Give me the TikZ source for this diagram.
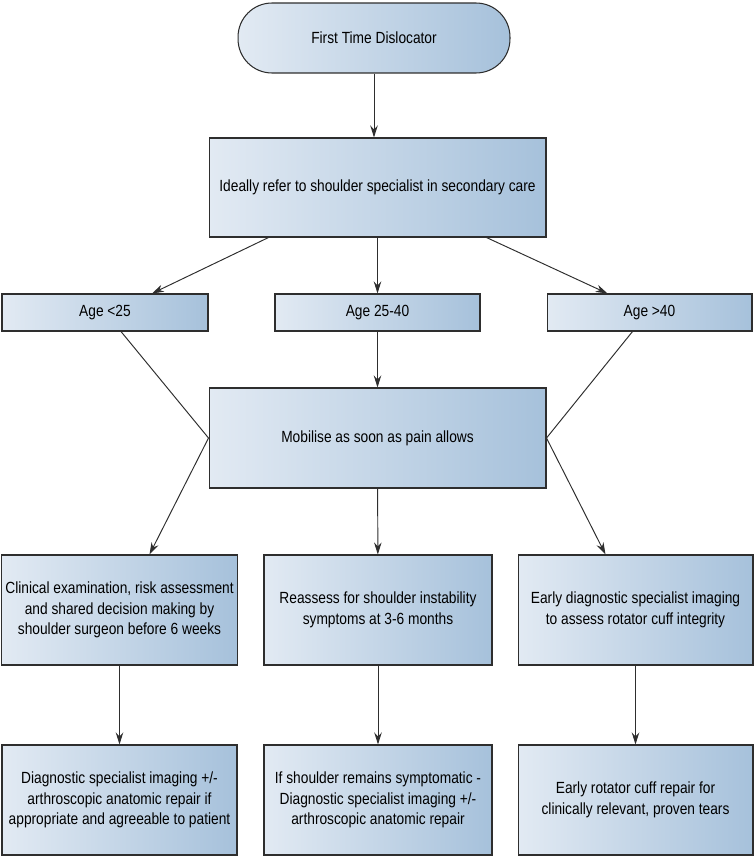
\documentclass[tikz,border=0pt]{standalone}
\usepackage{fontspec}
\setmainfont{Liberation Sans}[FakeStretch=0.85]
\usepackage{tikz}
\usetikzlibrary{arrows.meta,positioning,calc}
\definecolor{boxleft}{HTML}{E2EAF3}
\definecolor{boxright}{HTML}{A6C1DB}
\definecolor{edge}{HTML}{2E2E2E}

\begin{document}
\begin{tikzpicture}[x=0.02cm, y=-0.02cm,
    box/.style={rectangle, draw=edge, line width=0.6pt, left color=boxleft, right color=boxright, align=center, font=\fontsize{9.2}{11.6}\selectfont, inner sep=2pt},
    start/.style={box, rounded corners=0.68cm, minimum width=5.44cm, minimum height=1.4cm},
    agebox/.style={box, minimum width=4.1cm, minimum height=0.74cm},
    step3/.style={box, minimum width=4.7cm, minimum height=2.2cm},
    arrow/.style={->, >={Stealth[length=2.4mm,width=1.5mm]}, line width=0.55pt, draw=edge}
]
\useasboundingbox (0,0) rectangle (755,858);

\node[start] (first) at (374,38) {First Time Dislocator};
\node[box, minimum width=6.74cm, minimum height=1.98cm] (refer) at (377.5,187.5) {Ideally refer to shoulder specialist in secondary care};

\node[agebox, minimum width=4.12cm] (young) at (105,312.5) {Age <25};
\node[agebox] (middle) at (377.5,312.5) {Age 25-40};
\node[agebox] (older) at (649.5,312.5) {Age >40};

\node[box, minimum width=6.74cm, minimum height=2cm] (mob) at (377.5,438) {Mobilise as soon as pain allows};

\node[step3] (clin) at (119.5,610) {Clinical examination, risk assessment\\and shared decision making by\\shoulder surgeon before 6 weeks};
\node[step3, minimum width=4.56cm] (reassess) at (378,610) {Reassess for shoulder instability\\symptoms at 3-6 months};
\node[step3] (imaging) at (635.5,610) {Early diagnostic specialist imaging\\to assess rotator cuff integrity};

\node[step3] (repairA) at (119.5,800) {Diagnostic specialist imaging +/-\\arthroscopic anatomic repair if\\appropriate and agreeable to patient};
\node[step3, minimum width=4.56cm] (repairB) at (378,800) {If shoulder remains symptomatic -\\Diagnostic specialist imaging +/-\\arthroscopic anatomic repair};
\node[step3] (repairC) at (635.5,800) {Early rotator cuff repair for\\clinically relevant, proven tears};

\draw[arrow] (first.south) -- (first.south |- refer.north);
\draw[arrow] ([xshift=-2.18cm]refer.south) -- ([xshift=0.94cm]young.north);
\draw[arrow] (refer) -- (middle);
\draw[arrow] ([xshift=2.18cm]refer.south) -- ([xshift=-0.84cm]older.north);

\draw[arrow] ([xshift=0.32cm]young.south) -- (mob.west) -- ([xshift=0.6cm]clin.north);
\draw[arrow] (middle) -- (mob);
\draw[arrow] ([xshift=-0.34cm]older.south) -- (mob.east) -- ([xshift=-0.6cm]imaging.north);
\draw[arrow] (mob) -- (reassess);

\draw[arrow] (clin) -- (repairA);
\draw[arrow] (reassess) -- (repairB);
\draw[arrow] (imaging) -- (repairC);
\end{tikzpicture}
\end{document}
